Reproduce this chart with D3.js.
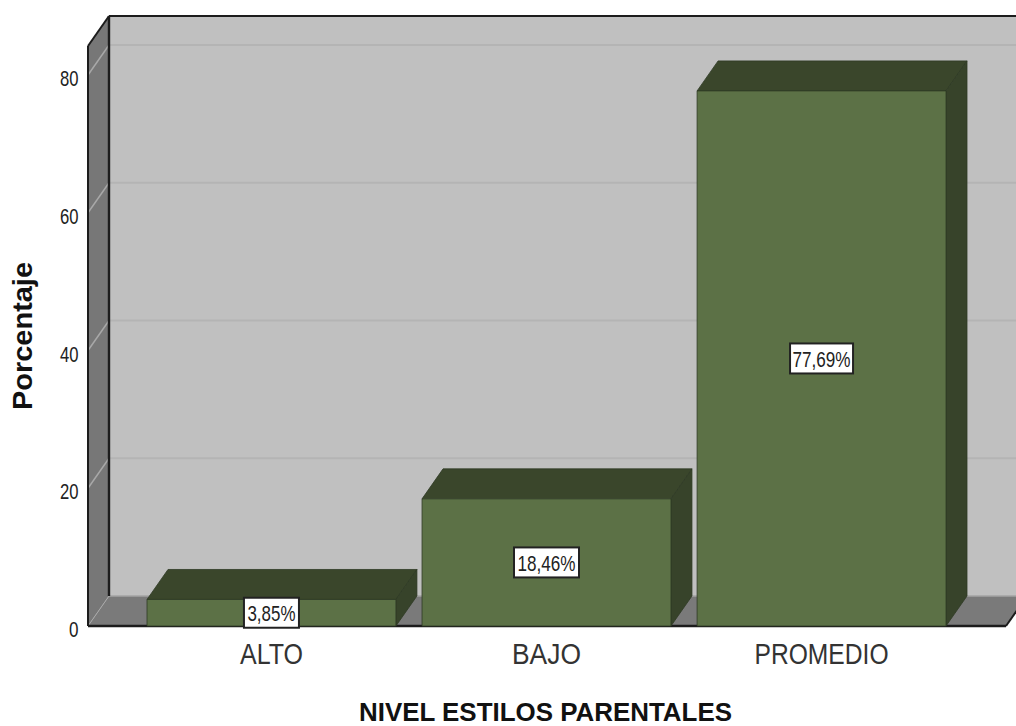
<!DOCTYPE html>
<html><head><meta charset="utf-8">
<script src="https://cdnjs.cloudflare.com/ajax/libs/d3/7.8.5/d3.min.js"></script>
<style>html,body{margin:0;padding:0;background:#fff}svg{display:block}text{font-family:"Liberation Sans",Arial,sans-serif}</style>
</head><body><svg id="c" width="1016" height="726"></svg>
<script>
const categories=["ALTO","BAJO","PROMEDIO"];
const percentages=[3.85,18.46,77.69];
const valueLabels=["3,85%","18,46%","77,69%"];
const yTicks=[0,20,40,60,80];
const xTitle="NIVEL ESTILOS PARENTALES";
const yTitle="Porcentaje";

const svg=d3.select("#c");
const dx=21,dy=-30;
const y=d3.scaleLinear().domain([0,80]).range([626,75]);
const x=d3.scaleBand().domain(categories).range([147,946]).paddingInner(0.095).paddingOuter(0);
const leftX=88,rightX=1006,topY=16;
const poly=(pts,fill)=>svg.append("polygon").attr("points",pts.map(p=>p.join(",")).join(" ")).attr("fill",fill);

// walls
poly([[leftX+dx,topY],[1036,topY],[1036,y(0)+dy],[leftX+dx,y(0)+dy]],"#c0c0c0");
poly([[leftX,topY+30],[leftX+dx,topY],[leftX+dx,y(0)+dy],[leftX,y(0)]],"#777777");
poly([[leftX,y(0)],[leftX+dx,y(0)+dy],[rightX+dx,y(0)+dy],[rightX,y(0)]],"#7a7a7a");
// grid
yTicks.slice(1).forEach(t=>{
  svg.append("line").attr("x1",leftX+dx).attr("x2",1016).attr("y1",y(t)+dy).attr("y2",y(t)+dy).attr("stroke","#b4b4b4").attr("stroke-width",2);
  svg.append("line").attr("x1",leftX).attr("x2",leftX+dx).attr("y1",y(t)).attr("y2",y(t)+dy).attr("stroke","#a8a8a8").attr("stroke-width",1.5);
});
svg.append("line").attr("x1",leftX).attr("x2",leftX+dx).attr("y1",y(0)).attr("y2",y(0)+dy).attr("stroke","#a8a8a8").attr("stroke-width",1);
svg.append("line").attr("x1",leftX+dx).attr("x2",1016).attr("y1",y(0)+dy).attr("y2",y(0)+dy).attr("stroke","#a4a4a4").attr("stroke-width",1.5);
// frame
const fr=(a,b,c,d,w)=>svg.append("line").attr("x1",a).attr("y1",b).attr("x2",c).attr("y2",d).attr("stroke","#1c1c1c").attr("stroke-width",w);
fr(leftX+dx,topY,1016,topY,2);
fr(leftX+dx,topY,leftX+dx,y(0)+dy,2.4);
fr(leftX,topY+30,leftX+dx,topY,2);
fr(leftX,topY+30,leftX,y(0),2);
fr(leftX,y(0),rightX,y(0),2.4);
fr(rightX,y(0),rightX+dx,y(0)+dy,2);

// bars
const g=svg.append("g");
categories.forEach((c,i)=>{
  const x0=x(c),x1=x0+x.bandwidth(),yt=y(percentages[i]),yb=y(0);
  const P=(pts,f)=>g.append("polygon").attr("points",pts.map(p=>p.join(",")).join(" ")).attr("fill",f).attr("stroke","#2e3a24").attr("stroke-width",0.8);
  P([[x0,yt],[x0+dx,yt+dy],[x1+dx,yt+dy],[x1,yt]],"#3a462b");
  P([[x1,yt],[x1+dx,yt+dy],[x1+dx,yb+dy],[x1,yb]],"#37432a");
  P([[x0,yt],[x1,yt],[x1,yb],[x0,yb]],"#5c7146");
});
// value labels
const boxW=[55,65,63],textW=[48,58,58];
categories.forEach((c,i)=>{
  const cx=x(c)+x.bandwidth()/2,cy=(y(percentages[i])+y(0))/2;
  const h=30,w=boxW[i];
  g.append("rect").attr("x",cx-w/2).attr("y",cy-h/2).attr("width",w).attr("height",h).attr("fill","#fff").attr("stroke","#222").attr("stroke-width",2);
  g.append("text").attr("x",cx).attr("y",cy+8.5).attr("text-anchor","middle").attr("font-size",22).attr("fill","#222")
   .attr("textLength",textW[i]).attr("lengthAdjust","spacingAndGlyphs").text(valueLabels[i]);
});
// y axis tick labels
const ya=svg.append("g").attr("transform",`translate(${leftX},0)`).call(d3.axisLeft(y).tickValues(yTicks).tickSize(0).tickPadding(9.5).tickFormat(d3.format("d")));
ya.select(".domain").remove();
ya.selectAll("text").attr("font-size",22).attr("fill","#222").attr("font-family","Liberation Sans").attr("dy",0).attr("y",10.5)
  .attr("textLength",d=>d==0?9.5:18.5).attr("lengthAdjust","spacingAndGlyphs");
// x axis labels
const widths=[63,69,134];
const xa=svg.append("g").attr("transform",`translate(0,${y(0)})`).call(d3.axisBottom(x).tickSize(0).tickPadding(0));
xa.select(".domain").remove();
xa.selectAll("text").attr("font-size",29).attr("fill","#333").attr("font-family","Liberation Sans").attr("y",37.5).attr("dy",0)
  .attr("textLength",(d,i)=>widths[i]).attr("lengthAdjust","spacingAndGlyphs");
// titles
svg.append("text").attr("x",545.5).attr("y",720.5).attr("text-anchor","middle").attr("font-size",25).attr("font-weight","bold").attr("fill","#111")
 .attr("textLength",373).attr("lengthAdjust","spacingAndGlyphs").text(xTitle);
svg.append("text").attr("transform","translate(32,336) rotate(-90)").attr("text-anchor","middle").attr("font-size",27).attr("font-weight","bold").attr("fill","#111")
 .attr("textLength",148).attr("lengthAdjust","spacingAndGlyphs").text(yTitle);
</script></body></html>
